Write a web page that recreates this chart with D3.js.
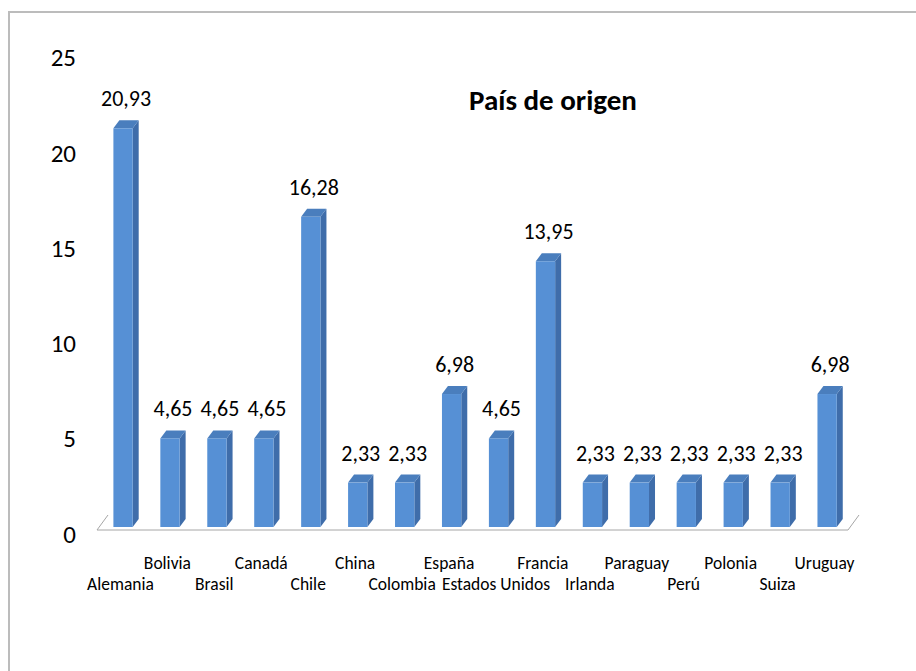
<!DOCTYPE html>
<html>
<head>
<meta charset="utf-8">
<script src="https://cdn.jsdelivr.net/npm/d3@7"></script>
<style>
  body { margin: 0; background: #fff; }
  text { font-family: Carlito, Lato, "Open Sans", sans-serif; fill: #000; }
</style>
</head>
<body>
<script>
// datos
const paises = ["Alemania", "Bolivia", "Brasil", "Canadá", "Chile", "China", "Colombia", "España",
  "Estados Unidos", "Francia", "Irlanda", "Paraguay", "Perú", "Polonia", "Suiza", "Uruguay"];
const porcentajes = [20.93, 4.65, 4.65, 4.65, 16.28, 2.33, 2.33, 6.98,
  4.65, 13.95, 2.33, 2.33, 2.33, 2.33, 2.33, 6.98];
const ticksY = [0, 5, 10, 15, 20, 25];
const titulo = "País de origen";

const W = 916, H = 671;
const dx = 6, dy = -8;       // profundidad de la barra
const fdx = 11, fdy = -15;   // profundidad del piso

const svg = d3.select("body").append("svg")
    .attr("width", W)
    .attr("height", H);

// marco
svg.append("path")
    .attr("d", "M9,680 L9,12 L920,12")
    .attr("fill", "none")
    .attr("stroke", "#bcbcbc")
    .attr("stroke-width", 2);

const x = d3.scaleBand()
    .domain(paises)
    .range([97, 848]);

const y = d3.scaleLinear()
    .domain([0, 25])
    .range([527, 527 - 25 * 19.05]);

// piso
const y0 = 530;
svg.append("path")
    .attr("d", `M${97 + fdx},${y0 + fdy} L97,${y0} L848,${y0} L${848 + fdx},${y0 + fdy}`)
    .attr("fill", "none")
    .attr("stroke", "#a6a6a6")
    .attr("stroke-width", 1);

// eje y (solo etiquetas)
const yLab = y.copy().range(y.range().map(d => d + 7));
const ejeY = svg.append("g")
    .attr("transform", "translate(76,0)")
    .call(d3.axisLeft(yLab).tickValues(ticksY).tickSize(0).tickPadding(0));
ejeY.select(".domain").remove();
ejeY.selectAll("text")
    .style("font-family", "Carlito, Lato, sans-serif")
    .style("font-size", "25px")
    .attr("fill", "#000");

// barras 3D
const bw = 19.3;
const off = 16.4;
const barras = svg.append("g")
    .selectAll("g")
    .data(paises)
    .join("g");

barras.append("path") // lado
    .attr("d", (c, i) => {
        const x1 = x(c) + off + bw, yt = y(porcentajes[i]), yb = y(0);
        return `M${x1},${yb} L${x1},${yt} L${x1 + dx},${yt + dy} L${x1 + dx},${yb + dy} Z`;
    })
    .attr("fill", "#3f6daa");

barras.append("path") // tapa
    .attr("d", (c, i) => {
        const x0 = x(c) + off, yt = y(porcentajes[i]);
        return `M${x0},${yt} L${x0 + bw},${yt} L${x0 + bw + dx},${yt + dy} L${x0 + dx},${yt + dy} Z`;
    })
    .attr("fill", "#4a7ebd");

barras.append("rect") // frente
    .attr("x", c => x(c) + off)
    .attr("y", (c, i) => y(porcentajes[i]))
    .attr("width", bw)
    .attr("height", (c, i) => y(0) - y(porcentajes[i]))
    .attr("fill", "#5690d5");

// etiquetas de datos
barras.append("text")
    .attr("x", c => x(c) + off + bw / 2 + 3)
    .attr("y", (c, i) => y(porcentajes[i]) + dy - 14)
    .attr("text-anchor", "middle")
    .style("font-size", "22px")
    .text((c, i) => porcentajes[i].toFixed(2).replace(".", ","));

// etiquetas de categorias, escalonadas
svg.append("g")
    .selectAll("text")
    .data(paises)
    .join("text")
    .attr("x", c => x(c) + x.bandwidth() / 2)
    .attr("y", (c, i) => i % 2 === 0 ? 590 : 569)
    .attr("text-anchor", "middle")
    .style("font-size", "17.5px")
    .text(c => c);

// titulo
svg.append("text")
    .attr("x", 553)
    .attr("y", 110)
    .attr("text-anchor", "middle")
    .style("font-size", "29px")
    .style("font-weight", "bold")
    .text(titulo);
</script>
</body>
</html>
